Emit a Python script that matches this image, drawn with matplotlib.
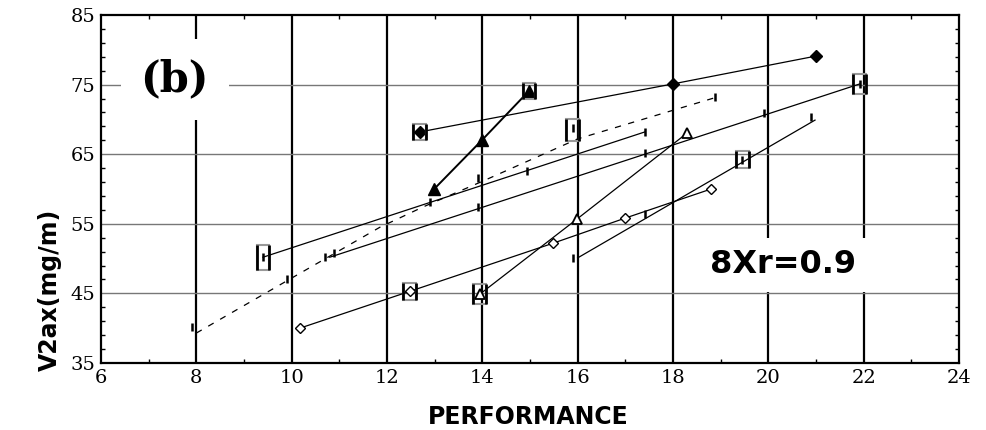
import matplotlib
matplotlib.use('Agg')
import matplotlib.pyplot as plt
from matplotlib.patches import Rectangle

# filled diamonds
dia_x = [12.69, 18.0, 21.0]
dia_y = [68.2, 75.1, 79.1]
# filled triangles
tri_x = [12.99, 13.99, 14.98]
tri_y = [60.0, 67.0, 74.1]
# open triangles
otri_x = [13.95, 15.99, 18.29]
otri_y = [44.9, 55.7, 68.0]
# open diamonds
odia_x = [10.17, 12.48, 15.48, 16.99, 18.80]
odia_y = [40.0, 45.3, 52.2, 55.8, 60.0]

# dashed series: points and its fitted curve
dash_x = [7.91, 9.90, 10.70, 12.90, 13.91, 15.90, 18.88]
dash_y = [40.2, 47.1, 50.2, 58.1, 61.6, 68.8, 73.2]
dash_fit_x = [8.0, 10.0, 11.85, 12.75, 14.0, 16.0, 18.92]
dash_fit_y = [39.3, 47.2, 54.5, 57.4, 61.1, 67.2, 73.2]

# solid series A
a_x = [9.40, 14.94, 17.41]
a_y = [50.2, 62.6, 68.2]
a_fit_x = [9.40, 17.41]
a_fit_y = [50.2, 68.2]

# solid series B
b_x = [10.89, 13.91, 17.41, 19.91, 21.92]
b_y = [50.8, 57.4, 65.2, 70.9, 75.1]
b_fit_x = [10.80, 21.92]
b_fit_y = [50.2, 75.1]

# solid series E
e_x = [15.90, 17.41, 19.45, 20.89]
e_y = [50.1, 56.4, 64.2, 70.3]
e_fit_x = [16.0, 20.98]
e_fit_y = [50.1, 69.9]

# error boxes (centre x, centre y, height)
box_x = [9.40, 21.92, 12.69, 14.98, 15.90, 19.45, 12.48, 13.95]
box_y = [50.2, 75.1, 68.2, 74.1, 68.5, 64.2, 45.3, 44.9]
box_h = [3.6, 2.9, 2.4, 2.4, 3.2, 2.4, 2.4, 2.9]

fig = plt.figure(figsize=(9.87, 4.30), dpi=100)
ax = fig.add_axes([0.1023, 0.1558, 0.8693, 0.8093])

ax.set_xlim(6, 24)
ax.set_ylim(35, 85)
ax.set_xticks(range(6, 25, 2))
ax.set_xticks(range(7, 24, 2), minor=True)
ax.set_yticks(range(35, 86, 10))
ax.set_yticks(range(37, 85, 2), minor=True)

for xv in range(8, 23, 2):
    ax.axvline(xv, color='black', lw=1.6, zorder=1)
for yv in range(45, 76, 10):
    ax.axhline(yv, color='#777777', lw=1.0, zorder=1)

ax.tick_params(which='both', direction='in', top=True, right=True, labelsize=14)
ax.tick_params(which='major', length=0, pad=4)
ax.tick_params(which='minor', length=3, width=1)
for lab in ax.get_xticklabels() + ax.get_yticklabels():
    lab.set_family('DejaVu Serif')
for s in ax.spines.values():
    s.set_linewidth(1.6)

lw = 0.9
ax.plot(dia_x, dia_y, color='black', lw=lw, marker='D', ms=6, zorder=4)
ax.plot(tri_x, tri_y, color='black', lw=1.4, marker='^', ms=8, zorder=4)
ax.plot(otri_x, otri_y, color='black', lw=lw, marker='^', ms=7, mfc='white', mew=1.3, zorder=4)
ax.plot(odia_x, odia_y, color='black', lw=lw, marker='D', ms=5.5, mfc='white', mew=1.0, zorder=4)

ax.plot(dash_fit_x, dash_fit_y, color='black', lw=lw, ls=(0, (5, 6)), zorder=3)
ax.plot(a_fit_x, a_fit_y, color='black', lw=lw, zorder=3)
ax.plot(b_fit_x, b_fit_y, color='black', lw=lw, zorder=3)
ax.plot(e_fit_x, e_fit_y, color='black', lw=lw, zorder=3)
for xs, ys in [(dash_x, dash_y), (a_x, a_y), (b_x, b_y), (e_x, e_y)]:
    ax.plot(xs, ys, ls='none', marker='|', ms=6, mew=1.8, color='black', zorder=4)

w = 0.27
for x, y, h in zip(box_x, box_y, box_h):
    ax.add_patch(Rectangle((x - w / 2, y - h / 2), w, h, fill=False,
                           edgecolor='#999999', lw=1.5, zorder=5))
    ax.vlines([x - w / 2, x + w / 2], y - h / 2, y + h / 2, color='black', lw=2, zorder=6)

ax.text(7.55, 75.7, '(b)', fontsize=30, fontweight='bold', family='DejaVu Serif',
        ha='center', va='center', zorder=7,
        bbox=dict(facecolor='white', edgecolor='none', pad=14))
ax.text(20.3, 49.1, '8Xr=0.9', fontsize=23, fontweight='bold',
        family=['Liberation Sans Narrow', 'DejaVu Sans'],
        ha='center', va='center', zorder=7,
        bbox=dict(facecolor='white', edgecolor='none', pad=8))

ax.set_xlabel('PERFORMANCE', fontsize=17, fontweight='bold',
              family=['Liberation Sans Narrow', 'DejaVu Sans'])
ax.xaxis.set_label_coords(0.498, -0.12)
ax.set_ylabel('V2ax(mg/m)', fontsize=17, fontweight='bold',
              family=['Liberation Sans Narrow', 'DejaVu Sans'])
ax.yaxis.set_label_coords(-0.045, 0.21)

fig.savefig('out.png', dpi=100)
